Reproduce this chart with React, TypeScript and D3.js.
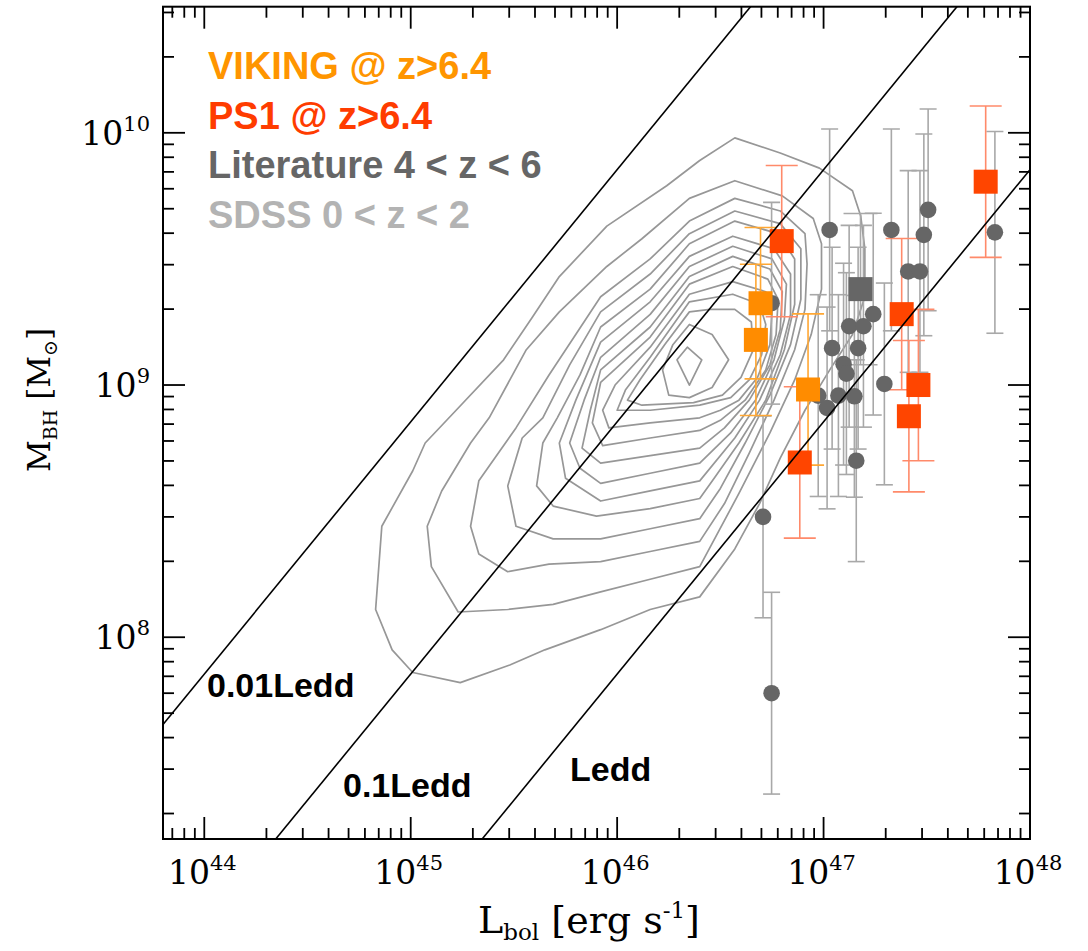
import React from 'react';
import * as d3 from 'd3';

// ---------------- data ----------------
// VIKING quasars at z>6.4 (L_bol [erg/s], M_BH [Msun], symmetric error in dex)
const vikingL = [4.95e46, 4.7e46, 8.41e46];
const vikingM = [2.11e9, 1.51e9, 9.6e8];
const vikingErr = [0.3, 0.3, 0.3];

// PS1 quasars at z>6.4
const ps1L = [6.27e46, 6.1e47, 2.39e47, 2.88e47, 2.59e47, 7.67e46];
const ps1M = [3.72e9, 6.4e9, 1.91e9, 1.0e9, 7.52e8, 4.93e8];
const ps1Err = [0.3, 0.3, 0.3, 0.3, 0.3, 0.3];

// Literature 4<z<6 (circles)
const litL = [1.07e47, 2.13e47, 3.06e47, 3.21e47, 6.76e47, 2.57e47, 2.93e47, 1.74e47, 1.33e47, 1.56e47, 1.1e47, 1.47e47, 1.25e47, 1.29e47, 9.42e46, 1.18e47, 1.41e47, 1.04e47, 1.97e47, 1.44e47, 5.09e46, 5.6e46, 5.6e46];
const litM = [4.12e9, 4.12e9, 3.94e9, 4.95e9, 4.03e9, 2.82e9, 2.82e9, 1.91e9, 1.71e9, 1.71e9, 1.4e9, 1.4e9, 1.21e9, 1.11e9, 9.08e8, 9.08e8, 9.02e8, 8.11e8, 1.01e9, 5.01e8, 3.0e8, 6.0e7, 2.11e9];
const litErr = [0.4, 0.4, 0.4, 0.4, 0.4, 0.4, 0.4, 0.4, 0.4, 0.4, 0.4, 0.4, 0.4, 0.4, 0.4, 0.4, 0.4, 0.4, 0.4, 0.4, 0.4, 0.4, 0.4];
// Literature (square)
const litSqL = [1.51e47];
const litSqM = [2.4e9];
const litSqErr = [0.3];

// SDSS 0<z<2 density contours, vertices as [log10 L_bol, log10 M_BH]
const sdssContours: [number, number][][] = [
  [[46.57,9.98],[46.79,9.92],[46.98,9.86],[47.14,9.77],[47.18,9.67],[47.2,9.54],[47.2,9.35],[47.14,9.2],[47.03,9.06],[46.91,8.9],[46.79,8.71],[46.69,8.53],[46.57,8.35],[46.4,8.16],[46.16,8.11],[45.92,8.03],[45.65,7.95],[45.48,7.89],[45.24,7.82],[45.01,7.86],[44.91,7.95],[44.83,8.11],[44.86,8.44],[45.01,8.66],[45.07,8.77],[45.22,8.9],[45.45,9.1],[45.59,9.27],[45.72,9.43],[45.95,9.63],[46.24,9.79],[46.4,9.89]],
  [[46.57,9.81],[46.8,9.75],[46.95,9.66],[46.99,9.56],[46.99,9.38],[46.94,9.2],[46.86,9.02],[46.74,8.81],[46.59,8.57],[46.4,8.28],[46.16,8.23],[45.92,8.18],[45.69,8.13],[45.47,8.11],[45.23,8.1],[45.1,8.28],[45.08,8.44],[45.15,8.58],[45.29,8.77],[45.38,8.87],[45.56,9.14],[45.72,9.29],[45.95,9.47],[46.12,9.58],[46.35,9.74]],
  [[46.57,9.74],[46.79,9.69],[46.91,9.6],[46.92,9.48],[46.91,9.3],[46.86,9.14],[46.76,8.94],[46.64,8.73],[46.52,8.53],[46.4,8.38],[46.16,8.34],[45.92,8.3],[45.67,8.29],[45.47,8.26],[45.33,8.33],[45.29,8.44],[45.33,8.62],[45.51,8.83],[45.67,9.04],[45.92,9.35],[46.16,9.5],[46.35,9.65]],
  [[46.57,9.69],[46.79,9.64],[46.89,9.54],[46.89,9.34],[46.84,9.16],[46.74,8.96],[46.62,8.77],[46.5,8.59],[46.4,8.47],[46.16,8.43],[45.92,8.39],[45.69,8.39],[45.51,8.44],[45.47,8.6],[45.54,8.79],[45.64,8.87],[45.77,9.08],[45.92,9.29],[46.16,9.44],[46.35,9.6]],
  [[46.57,9.65],[46.78,9.6],[46.86,9.5],[46.86,9.32],[46.81,9.14],[46.72,8.94],[46.59,8.77],[46.47,8.63],[46.4,8.55],[46.16,8.51],[45.9,8.48],[45.69,8.52],[45.61,8.6],[45.64,8.77],[45.71,8.87],[45.82,9.04],[45.92,9.23],[46.16,9.38],[46.35,9.56]],
  [[46.56,9.59],[46.76,9.54],[46.84,9.44],[46.84,9.28],[46.79,9.12],[46.69,8.94],[46.57,8.79],[46.4,8.62],[46.16,8.58],[45.92,8.54],[45.75,8.63],[45.72,8.77],[45.8,8.94],[45.92,9.17],[46.16,9.33],[46.35,9.51]],
  [[46.56,9.55],[46.75,9.5],[46.82,9.4],[46.81,9.26],[46.76,9.1],[46.67,8.94],[46.55,8.81],[46.4,8.69],[46.16,8.65],[45.92,8.61],[45.82,8.67],[45.77,8.77],[45.84,8.94],[45.92,9.11],[46.16,9.28],[46.35,9.47]],
  [[46.56,9.51],[46.74,9.46],[46.8,9.37],[46.79,9.22],[46.74,9.08],[46.64,8.94],[46.52,8.83],[46.4,8.75],[46.16,8.72],[45.92,8.69],[45.83,8.75],[45.87,8.9],[45.92,9.06],[46.16,9.23],[46.35,9.43]],
  [[46.56,9.47],[46.73,9.42],[46.78,9.34],[46.77,9.2],[46.72,9.06],[46.62,8.94],[46.5,8.86],[46.4,8.82],[46.16,8.79],[45.93,8.76],[45.88,8.85],[45.92,9.01],[46.16,9.19],[46.35,9.4]],
  [[46.56,9.41],[46.72,9.37],[46.75,9.29],[46.74,9.16],[46.68,9.03],[46.59,8.94],[46.5,8.9],[46.4,8.87],[46.16,8.85],[45.96,8.83],[45.93,8.9],[45.99,9.0],[46.16,9.15],[46.35,9.36]],
  [[46.56,9.36],[46.69,9.32],[46.72,9.24],[46.7,9.12],[46.64,9.02],[46.55,8.95],[46.4,8.92],[46.16,8.9],[46.0,8.9],[46.04,8.98],[46.16,9.11],[46.35,9.33]],
  [[46.57,9.3],[46.65,9.25],[46.66,9.14],[46.6,9.03],[46.51,8.96],[46.37,8.93],[46.12,8.92],[46.05,8.94],[46.11,9.02],[46.23,9.16],[46.35,9.29],[46.45,9.3]],
  [[46.35,9.24],[46.46,9.2],[46.54,9.1],[46.46,8.99],[46.35,8.95],[46.25,8.96],[46.22,9.06],[46.27,9.16]],
  [[46.34,9.15],[46.41,9.1],[46.35,9.0],[46.29,9.1]],
];

// Eddington ratio lines
const eddRatios = [0.01, 0.1, 1];
const eddLabelPrefix = ['0.01', '0.1', ''];
const LEDD_PER_MSUN = 1.4e38;

// axes
const xDomain: [number, number] = [Math.pow(10, 43.8), 1e48];
const yDomain: [number, number] = [Math.pow(10, 7.2), Math.pow(10, 10.5)];
const xMajor = [1e44, 1e45, 1e46, 1e47, 1e48];
const xMajorExp = ['44', '45', '46', '47', '48'];
const yMajor = [1e8, 1e9, 1e10];
const yMajorExp = ['8', '9', '10'];

// legend
const legendTexts = ['VIKING @ z>6.4', 'PS1 @ z>6.4', 'Literature 4 < z < 6', 'SDSS 0 < z < 2'];
const legendColors = ['#ff9500', '#ff3c00', '#666666', '#b3b3b3'];

// ---------------- chart ----------------
const X0 = 163, X1 = 1030, Y0 = 6.7, Y1 = 839;

function minorTicks(domain: [number, number]) {
  const out: number[] = [];
  const lo = Math.floor(Math.log10(domain[0]));
  const hi = Math.ceil(Math.log10(domain[1]));
  for (let e = lo; e < hi; e++) {
    for (let k = 2; k <= 9; k++) {
      const v = k * Math.pow(10, e);
      if (v > domain[0] && v < domain[1]) out.push(v);
    }
  }
  return out;
}

export default function App() {
  const x = d3.scaleLog().domain(xDomain).range([X0, X1]);
  const y = d3.scaleLog().domain(yDomain).range([Y1, Y0]);

  const contourPath = d3
    .line<[number, number]>()
    .x((d) => x(Math.pow(10, d[0])))
    .y((d) => y(Math.pow(10, d[1])))
    .curve(d3.curveLinearClosed);

  const serif = "'DejaVu Serif', 'Liberation Serif', serif";
  const sans = "'Liberation Sans', Arial, sans-serif";

  const errBar = (L: number, M: number, dex: number, half: number, color: string, key: string) => {
    const cx = x(L);
    const yt = y(M * Math.pow(10, dex));
    const yb = y(M / Math.pow(10, dex));
    return (
      <g key={key} stroke={color} strokeWidth={1.6} fill="none">
        <line x1={cx} x2={cx} y1={yt} y2={yb} />
        <line x1={cx - half} x2={cx + half} y1={yt} y2={yt} />
        <line x1={cx - half} x2={cx + half} y1={yb} y2={yb} />
      </g>
    );
  };

  const sq = 24;
  const xMinor = minorTicks(xDomain);
  const yMinor = minorTicks(yDomain);
  const majLen = 22, minLen = 11;

  const eddLines = eddRatios.map((r) => {
    const Ms = [1e6, 1e12];
    return Ms.map((m) => [x(r * LEDD_PER_MSUN * m), y(m)] as [number, number]);
  });

  return (
    <svg width={1088} height={951} style={{ position: 'absolute', left: 0, top: 0, background: '#fff' }}>
      <defs>
        <clipPath id="plotClip">
          <rect x={X0} y={Y0} width={X1 - X0} height={Y1 - Y0} />
        </clipPath>
      </defs>
      <rect x={0} y={0} width={1088} height={951} fill="#fff" />

      <g clipPath="url(#plotClip)">
        {/* SDSS contours */}
        {sdssContours.map((c, i) => (
          <path key={'c' + i} d={contourPath(c) || ''} fill="none" stroke="#979797" strokeWidth={1.7} strokeLinejoin="round" />
        ))}

        {/* error bars */}
        {litL.map((L, i) => errBar(L, litM[i], litErr[i], 8.5, '#a8a8a8', 'le' + i))}
        {litSqL.map((L, i) => errBar(L, litSqM[i], litSqErr[i], 17, '#a8a8a8', 'lse' + i))}
        {vikingL.map((L, i) => errBar(L, vikingM[i], vikingErr[i], 16, '#ffa733', 've' + i))}
        {ps1L.map((L, i) => errBar(L, ps1M[i], ps1Err[i], 16, '#ff8a6a', 'pe' + i))}

        {/* literature circles */}
        {litL.map((L, i) => (
          <circle key={'lc' + i} cx={x(L)} cy={y(litM[i])} r={8.3} fill="#666666" />
        ))}
        {litSqL.map((L, i) => (
          <rect key={'ls' + i} x={x(L) - sq / 2} y={y(litSqM[i]) - sq / 2} width={sq} height={sq} fill="#666666" />
        ))}
        {vikingL.map((L, i) => (
          <rect key={'vs' + i} x={x(L) - sq / 2} y={y(vikingM[i]) - sq / 2} width={sq} height={sq} fill="#ff8c00" />
        ))}
        {ps1L.map((L, i) => (
          <rect key={'ps' + i} x={x(L) - sq / 2} y={y(ps1M[i]) - sq / 2} width={sq} height={sq} fill="#ff4500" />
        ))}

        {/* Eddington lines */}
        {eddLines.map((pts, i) => (
          <line key={'ed' + i} x1={pts[0][0]} y1={pts[0][1]} x2={pts[1][0]} y2={pts[1][1]} stroke="#000" strokeWidth={1.6} />
        ))}
      </g>

      {/* Eddington labels */}
      <g fontFamily={sans} fontWeight="bold" fontSize={34} fill="#000">
        <text x={207} y={697}>{eddLabelPrefix[0]}Ledd</text>
        <text x={343} y={797}>{eddLabelPrefix[1]}Ledd</text>
        <text x={570} y={781}>{eddLabelPrefix[2]}Ledd</text>
      </g>

      {/* legend */}
      <g fontFamily={sans} fontWeight="bold" fontSize={38}>
        {legendTexts.map((t, i) => (
          <text key={'lg' + i} x={208} y={79 + i * 49.5} fill={legendColors[i]}>
            {t}
          </text>
        ))}
      </g>

      {/* frame */}
      <rect x={X0} y={Y0} width={X1 - X0} height={Y1 - Y0} fill="none" stroke="#000" strokeWidth={2} />

      {/* ticks */}
      <g stroke="#000" strokeWidth={1.8}>
        {xMajor.map((v, i) => (
          <g key={'xM' + i}>
            <line x1={x(v)} x2={x(v)} y1={Y1} y2={Y1 - majLen} />
            <line x1={x(v)} x2={x(v)} y1={Y0} y2={Y0 + majLen} />
          </g>
        ))}
        {xMinor.map((v, i) => (
          <g key={'xm' + i}>
            <line x1={x(v)} x2={x(v)} y1={Y1} y2={Y1 - minLen} />
            <line x1={x(v)} x2={x(v)} y1={Y0} y2={Y0 + minLen} />
          </g>
        ))}
        {yMajor.map((v, i) => (
          <g key={'yM' + i}>
            <line x1={X0} x2={X0 + majLen} y1={y(v)} y2={y(v)} />
            <line x1={X1} x2={X1 - majLen} y1={y(v)} y2={y(v)} />
          </g>
        ))}
        {yMinor.map((v, i) => (
          <g key={'ym' + i}>
            <line x1={X0} x2={X0 + minLen} y1={y(v)} y2={y(v)} />
            <line x1={X1} x2={X1 - minLen} y1={y(v)} y2={y(v)} />
          </g>
        ))}
      </g>

      {/* tick labels */}
      <g fontFamily={serif} fill="#000">
        {xMajor.map((v, i) => (
          <text key={'xl' + i} x={x(v) - 2} y={884} textAnchor="middle" fontSize={33}>
            10<tspan fontSize={21} dy={-14}>{xMajorExp[i]}</tspan>
          </text>
        ))}
        {yMajor.map((v, i) => (
          <text key={'yl' + i} x={150} y={y(v) + 12} textAnchor="end" fontSize={33}>
            10<tspan fontSize={21} dy={-14}>{yMajorExp[i]}</tspan>
          </text>
        ))}
      </g>

      {/* axis titles */}
      <text x={589} y={933} textAnchor="middle" fontFamily={serif} fontSize={38} fill="#000">
        L<tspan fontSize={23} dy={7}>bol</tspan>
        <tspan dy={-7}> [erg s</tspan>
        <tspan fontSize={23} dy={-15}>-1</tspan>
        <tspan dy={15}>]</tspan>
      </text>
      <text
        transform="translate(50,400) rotate(-90)"
        textAnchor="middle"
        fontFamily={serif}
        fontSize={31}
        fill="#000"
      >
        M<tspan fontSize={19} dy={7}>BH</tspan>
        <tspan dy={-7}>  [M</tspan>
        <tspan fontSize={19} dy={7}>⊙</tspan>
        <tspan dy={-7}>]</tspan>
      </text>
    </svg>
  );
}
